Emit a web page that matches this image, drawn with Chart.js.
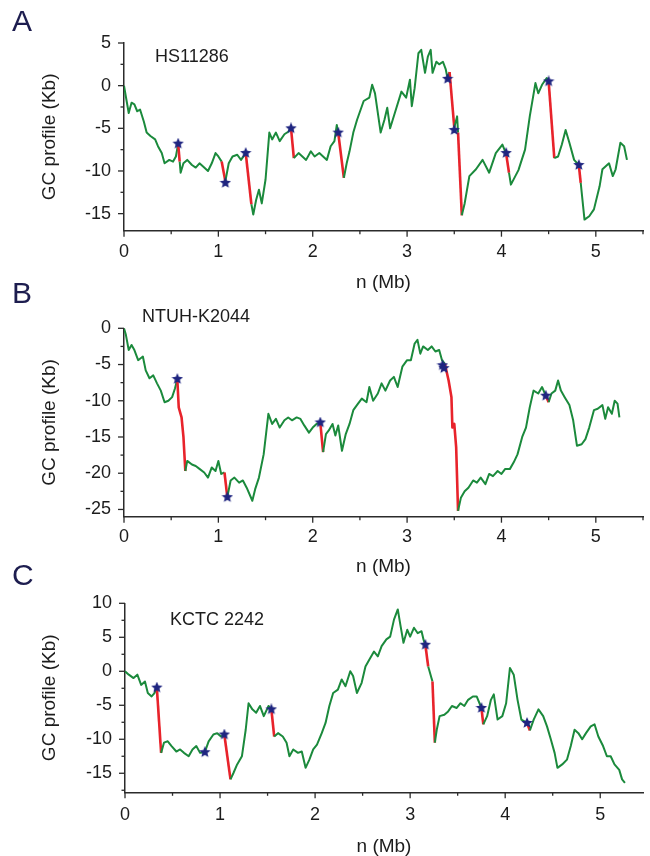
<!DOCTYPE html>
<html>
<head>
<meta charset="utf-8">
<script src="https://cdn.jsdelivr.net/npm/chart.js@4.4.0/dist/chart.umd.min.js"></script>
<style>
  body { margin: 0; background: #fff; }
  #wrap { position: relative; width: 650px; height: 856px; overflow: hidden; background: #fff; }
  #wrap canvas { position: absolute; left: 0; }
</style>
</head>
<body>
<div id="wrap">
  <canvas id="chartA"></canvas>
  <canvas id="chartB"></canvas>
  <canvas id="chartC"></canvas>
</div>
<script>
// axis titles and panel labels
const xTitle = "n (Mb)";
const yTitle = "GC profile (Kb)";
const panelLetters = ["A", "B", "C"];
const strainNames = ["HS11286", "NTUH-K2044", "KCTC 2242"];

// Panel A - HS11286 (position in Mb, GC profile in Kb)
const posA = [0,0.02,0.05,0.08,0.11,0.14,0.17,0.21,0.24,0.28,0.33,0.36,0.40,0.43,0.48,0.52,0.55,0.574,0.59,0.60,
  0.63,0.67,0.72,0.76,0.80,0.85,0.89,0.93,0.97,1.00,1.035,1.074,1.11,1.15,1.20,1.24,1.29,1.35,1.37,1.40,
  1.43,1.46,1.50,1.54,1.57,1.61,1.65,1.70,1.74,1.77,1.80,1.85,1.89,1.93,1.98,2.02,2.07,2.11,2.15,2.19,
  2.23,2.255,2.27,2.33,2.36,2.39,2.43,2.47,2.54,2.60,2.63,2.66,2.72,2.76,2.79,2.82,2.87,2.94,2.99,3.03,
  3.05,3.08,3.12,3.15,3.19,3.22,3.25,3.27,3.31,3.34,3.38,3.41,3.43,3.45,3.50,3.53,3.54,3.58,3.61,3.66,
  3.73,3.80,3.87,3.94,4.01,4.05,4.08,4.10,4.18,4.25,4.30,4.36,4.39,4.43,4.48,4.50,4.56,4.60,4.64,4.68,
  4.72,4.77,4.82,4.84,4.88,4.93,4.98,5.04,5.07,5.14,5.18,5.21,5.26,5.30,5.33];
const gcA = [0,-1.3,-3.2,-2.0,-2.2,-3.0,-2.8,-4.2,-5.5,-5.9,-6.3,-7.1,-7.9,-9.1,-8.7,-8.9,-8.3,-6.8,-8.9,-10.2,
  -9.1,-8.7,-9.3,-9.6,-9.1,-9.6,-10.0,-9.1,-7.9,-8.3,-8.9,-11.2,-9.1,-8.3,-8.1,-8.7,-7.9,-13.9,-15.1,-13.4,
  -12.2,-13.8,-11.0,-5.5,-6.3,-5.5,-6.5,-5.7,-5.4,-5.0,-8.5,-7.9,-8.3,-8.7,-7.7,-8.3,-7.9,-8.3,-8.7,-7.1,
  -6.5,-4.6,-5.5,-10.8,-9.1,-7.7,-5.5,-4.0,-1.8,-1.4,0.1,-0.9,-5.5,-4.0,-2.6,-5.0,-3.2,-0.7,-1.4,0.7,
  -2.4,-0.3,3.8,4.2,1.5,3.4,4.2,1.5,2.8,2.5,2.8,1.9,0.8,1.6,-4.9,-3.6,-5.5,-15.2,-13.8,-10.6,
  -9.8,-8.7,-10.2,-7.9,-6.9,-8.0,-10.2,-11.6,-9.9,-7.5,-3.6,0.3,-0.9,0.1,0.9,0.5,-8.5,-8.3,-6.9,-5.2,
  -6.7,-8.7,-9.3,-11.4,-15.7,-15.3,-14.5,-11.8,-9.8,-9.1,-10.6,-9.8,-6.7,-7.1,-8.7];
const redA = [[0.574,0.59],[1.035,1.074],[1.29,1.35],[1.77,1.80],[2.27,2.33],[3.45,3.50],[3.54,3.58],[4.05,4.08],[4.50,4.56],[4.82,4.84]];
const starPosA = [0.574,1.074,1.29,1.77,2.27,3.43,3.50,4.05,4.50,4.82];
const starGcA = [-6.8,-11.4,-7.9,-5.0,-5.5,0.8,-5.2,-7.9,0.5,-9.3];

// Panel B - NTUH-K2044
const posB = [0,0.02,0.05,0.08,0.11,0.15,0.20,0.23,0.27,0.31,0.35,0.39,0.43,0.47,0.51,0.54,0.565,0.58,0.61,0.63,
  0.65,0.67,0.72,0.76,0.80,0.85,0.89,0.93,0.97,1.00,1.03,1.065,1.095,1.13,1.17,1.22,1.26,1.30,1.36,1.39,
  1.43,1.48,1.53,1.57,1.61,1.65,1.70,1.74,1.78,1.83,1.87,1.91,1.96,2.00,2.04,2.08,2.11,2.14,2.17,2.21,
  2.24,2.27,2.31,2.35,2.39,2.43,2.48,2.52,2.57,2.60,2.64,2.69,2.73,2.77,2.82,2.86,2.90,2.95,3.00,3.04,
  3.08,3.11,3.14,3.17,3.22,3.26,3.30,3.34,3.37,3.40,3.44,3.47,3.48,3.50,3.52,3.54,3.57,3.61,3.65,3.70,
  3.74,3.78,3.83,3.87,3.91,3.96,4.00,4.04,4.09,4.13,4.17,4.22,4.26,4.30,4.34,4.39,4.43,4.47,4.50,4.53,
  4.57,4.60,4.63,4.67,4.72,4.76,4.80,4.85,4.89,4.93,4.98,5.02,5.07,5.10,5.13,5.17,5.20,5.23,5.25];
const gcB = [0,-0.9,-3.0,-2.3,-3.0,-4.4,-3.9,-5.8,-6.9,-6.5,-7.6,-8.6,-10.2,-10.0,-9.5,-8.3,-7.0,-10.9,-12.3,-15.0,
  -19.7,-18.3,-18.8,-19.0,-19.4,-19.9,-20.6,-19.2,-19.7,-18.3,-20.1,-19.9,-23.3,-21.0,-20.6,-21.3,-21.0,-22.0,-23.8,-22.2,
  -20.6,-17.4,-11.8,-13.2,-12.5,-13.7,-12.7,-12.3,-12.7,-12.3,-12.5,-13.4,-14.4,-13.7,-13.2,-13.0,-17.1,-14.6,-14.1,-13.2,
  -14.8,-13.4,-16.9,-14.6,-13.2,-11.3,-10.4,-9.7,-10.2,-8.1,-10.0,-9.0,-7.6,-8.6,-7.2,-6.7,-8.1,-5.3,-4.4,-4.4,
  -2.1,-1.6,-3.5,-2.5,-3.0,-2.5,-3.2,-3.0,-4.4,-4.9,-7.2,-9.5,-13.7,-13.2,-16.4,-25.2,-23.4,-22.5,-22.0,-21.0,
  -21.3,-20.6,-21.5,-20.1,-20.4,-19.7,-20.1,-19.4,-19.4,-18.5,-17.4,-15.0,-13.7,-10.9,-8.6,-9.0,-8.1,-9.3,-10.2,-9.0,
  -8.6,-7.2,-8.6,-9.5,-10.6,-12.7,-16.2,-16.0,-15.3,-13.7,-11.3,-11.1,-10.6,-12.5,-10.9,-11.8,-10.0,-10.4,-12.3];
const redB = [[0.565,0.65],[1.065,1.095],[2.08,2.11],[3.40,3.54],[4.47,4.50]];
const starPosB = [0.565,1.095,2.08,3.375,3.39,4.47];
const starGcB = [-7.0,-23.3,-13.0,-5.1,-5.5,-9.3];

// Panel C - KCTC 2242
const posC = [0,0.04,0.09,0.13,0.17,0.21,0.24,0.28,0.31,0.335,0.38,0.41,0.45,0.49,0.54,0.58,0.62,0.67,0.71,0.75,
  0.79,0.84,0.88,0.93,0.97,1.01,1.045,1.11,1.14,1.18,1.23,1.27,1.30,1.34,1.38,1.42,1.46,1.51,1.54,1.57,
  1.61,1.66,1.70,1.73,1.77,1.82,1.86,1.90,1.94,1.98,2.02,2.07,2.11,2.15,2.19,2.24,2.28,2.32,2.37,2.40,
  2.44,2.49,2.53,2.57,2.62,2.66,2.70,2.75,2.79,2.83,2.87,2.90,2.93,2.97,3.00,3.04,3.08,3.12,3.14,3.16,
  3.19,3.235,3.26,3.28,3.31,3.36,3.40,3.44,3.49,3.53,3.57,3.61,3.66,3.70,3.75,3.77,3.81,3.85,3.88,3.92,
  3.97,4.01,4.05,4.09,4.13,4.17,4.23,4.26,4.30,4.35,4.40,4.44,4.48,4.52,4.55,4.60,4.65,4.69,4.73,4.77,
  4.81,4.85,4.90,4.94,4.98,5.03,5.07,5.11,5.15,5.20,5.23,5.26];
const gcC = [0,-0.5,-1.0,-0.5,-2.0,-1.5,-3.2,-3.7,-3.2,-2.4,-12.0,-10.5,-10.3,-11.0,-11.8,-11.5,-12.0,-12.5,-11.5,-11.0,
  -12.0,-11.9,-10.3,-9.3,-9.1,-9.6,-9.3,-15.9,-15.0,-13.7,-12.5,-8.6,-4.7,-5.6,-6.1,-5.1,-6.6,-5.1,-5.6,-9.6,
  -9.1,-9.6,-10.5,-12.5,-11.5,-12.0,-11.8,-14.2,-13.0,-11.5,-10.8,-9.1,-7.6,-5.1,-3.2,-2.7,-1.2,-2.2,0,-0.7,
  -3.2,-1.7,0.7,1.7,2.9,2.2,3.7,4.7,5.1,7.6,9.1,6.6,4.2,6.1,5.1,6.4,5.6,5.9,4.7,3.9,
  0.7,-1.5,-10.5,-8.6,-6.6,-6.4,-5.9,-5.1,-5.4,-4.7,-5.1,-4.2,-3.7,-3.7,-5.4,-7.8,-6.6,-4.2,-3.4,-7.1,
  -6.6,-4.7,0.5,-0.5,-4.2,-7.1,-7.6,-8.7,-7.1,-5.6,-6.6,-8.1,-10.0,-12.0,-14.2,-13.7,-13.0,-11.0,-8.6,-9.1,
  -10.0,-9.1,-8.1,-7.8,-9.6,-11.0,-12.5,-12.5,-13.7,-14.5,-15.9,-16.4];
const redC = [[0.335,0.38],[1.045,1.11],[1.54,1.57],[3.16,3.19],[3.235,3.26],[3.75,3.77],[4.23,4.26]];
const starPosC = [0.335,0.84,1.045,1.54,3.16,3.75,4.23];
const starGcC = [-2.4,-11.9,-9.3,-5.6,3.9,-5.4,-7.6];

const green = "#1b8a3c";
const red = "#e8232b";
const navy = "#1f2580";
const axisColor = "#2b2b2b";
const textColor = "#1c1c1c";
const fontFamily = "'Liberation Sans', Arial, sans-serif";

function makeStar(size, color) {
  let c = document.createElement("canvas");
  c.width = size;
  c.height = size;
  let g = c.getContext("2d");
  let r = size / 2, ri = r * 0.45;
  g.beginPath();
  for (let i = 0; i < 10; i++) {
    let a = -Math.PI / 2 + i * Math.PI / 5;
    let rr = i % 2 ? ri : r;
    g.lineTo(r + rr * Math.cos(a), r + rr * Math.sin(a));
  }
  g.closePath();
  g.fillStyle = color;
  g.fill();
  return c;
}
const starImg = makeStar(12, navy);

function inRed(ranges, x0, x1) {
  return ranges.some(r => x0 >= r[0] - 1e-9 && x1 <= r[1] + 1e-9);
}

// draws minor/major ticks, panel letter and strain name
const panelDecor = {
  id: "panelDecor",
  afterDraw(chart, args, o) {
    let { ctx, scales: { x, y } } = chart;
    ctx.save();
    ctx.strokeStyle = axisColor;
    ctx.lineWidth = 1.3;
    for (let v = 0; v <= x.max + 1e-9; v += 0.5) {
      let px = x.getPixelForValue(v);
      let len = v % 1 === 0 ? 6 : 3.5;
      ctx.beginPath();
      ctx.moveTo(px, x.top);
      ctx.lineTo(px, x.top + len);
      ctx.stroke();
    }
    for (let v = Math.ceil(y.min / 2.5) * 2.5; v <= y.max + 1e-9; v += 2.5) {
      let py = y.getPixelForValue(v);
      let len = v % 5 === 0 ? 6 : 3.5;
      ctx.beginPath();
      ctx.moveTo(y.right, py);
      ctx.lineTo(y.right - len, py);
      ctx.stroke();
    }
    ctx.textBaseline = "middle";
    ctx.textAlign = "left";
    ctx.fillStyle = "#1d1d4f";
    ctx.font = "30px " + fontFamily;
    ctx.fillText(o.letter, o.letterX, o.letterY);
    ctx.fillStyle = textColor;
    ctx.font = "18px " + fontFamily;
    ctx.fillText(o.name, o.nameX, o.nameY);
    ctx.restore();
  }
};

function makePanel(id, pos, gc, ranges, starPos, starGc, L) {
  let canvas = document.getElementById(id);
  canvas.width = 650;
  canvas.height = L.height;
  canvas.style.top = L.top + "px";

  let lineData = pos.map((v, i) => ({ x: v, y: gc[i] }));
  let starData = starPos.map((v, i) => ({ x: v, y: starGc[i] }));

  return new Chart(canvas.getContext("2d"), {
    type: "line",
    data: {
      datasets: [
        {
          type: "scatter",
          data: starData,
          pointStyle: starImg,
          pointRadius: 6,
          order: 0
        },
        {
          data: lineData,
          borderColor: green,
          borderWidth: 2,
          pointRadius: 0,
          tension: 0,
          borderJoinStyle: "round",
          order: 1,
          segment: {
            borderColor: c => inRed(ranges, c.p0.parsed.x, c.p1.parsed.x) ? red : green,
            borderWidth: c => inRed(ranges, c.p0.parsed.x, c.p1.parsed.x) ? 2.6 : 2
          }
        }
      ]
    },
    options: {
      responsive: false,
      animation: false,
      events: [],
      layout: { padding: { top: L.padTop, left: 0, right: 0, bottom: 0 } },
      plugins: {
        legend: { display: false },
        tooltip: { enabled: false },
        panelDecor: L.decor
      },
      scales: {
        x: {
          type: "linear",
          min: 0,
          max: L.xMax,
          grid: { display: false, drawTicks: false },
          border: { display: true, color: axisColor, width: 1.5 },
          ticks: {
            stepSize: 1,
            includeBounds: false,
            padding: L.xLabelPad,
            color: textColor,
            font: { family: fontFamily, size: 18 },
            maxRotation: 0
          },
          title: {
            display: true,
            text: xTitle,
            color: textColor,
            font: { family: fontFamily, size: 19, lineHeight: 1 },
            padding: 0
          },
          afterFit: s => { s.height = L.xBox; }
        },
        y: {
          type: "linear",
          min: L.yMin,
          max: L.yMax,
          grid: { display: false, drawTicks: false },
          border: { display: true, color: axisColor, width: 1.5 },
          ticks: {
            stepSize: 5,
            includeBounds: false,
            padding: 13,
            color: textColor,
            font: { family: fontFamily, size: 18 }
          },
          title: {
            display: true,
            text: yTitle,
            color: textColor,
            font: { family: fontFamily, size: 19, lineHeight: 1 },
            padding: { top: 40.5, bottom: 0 }
          },
          afterFit: s => { s.width = L.yBox; }
        }
      }
    },
    plugins: [panelDecor]
  });
}

function setup() {
  makePanel("chartA", posA, gcA, redA, starPosA, starGcA, {
    top: 0, height: 292, padTop: 43, xBox: 61.3, yBox: 124, xMax: 5.5, yMin: -17, yMax: 5, xLabelPad: 10.5,
    decor: { letter: panelLetters[0], letterX: 12, letterY: 23, name: strainNames[0], nameX: 155, nameY: 57 }
  });
  makePanel("chartB", posB, gcB, redB, starPosB, starGcB, {
    top: 276, height: 300, padTop: 52.3, xBox: 59.3, yBox: 124, xMax: 5.5, yMin: -26, yMax: 0, xLabelPad: 9.5,
    decor: { letter: panelLetters[1], letterX: 12, letterY: 19, name: strainNames[1], nameX: 142, nameY: 40.7 }
  });
  makePanel("chartC", posC, gcC, redC, starPosC, starGcC, {
    top: 560, height: 296, padTop: 43.3, xBox: 63.7, yBox: 125, xMax: 5.45, yMin: -17.8, yMax: 10, xLabelPad: 12,
    decor: { letter: panelLetters[2], letterX: 12, letterY: 16.7, name: strainNames[2], nameX: 170, nameY: 60 }
  });
}

window.addEventListener("DOMContentLoaded", setup);
</script>
</body>
</html>
